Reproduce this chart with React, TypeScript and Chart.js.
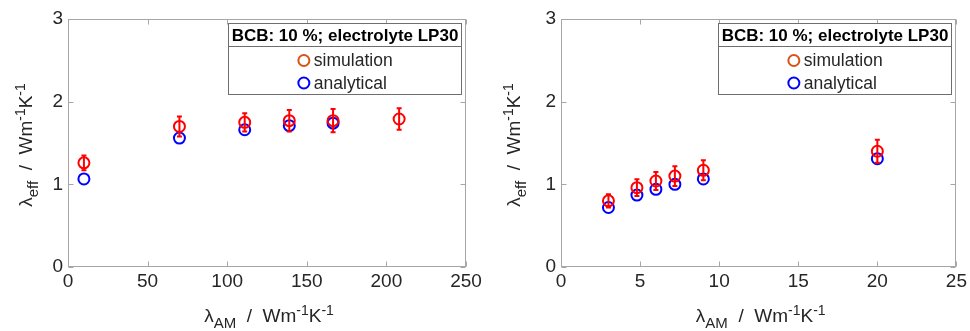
import React, { useEffect, useRef } from "react";
import { Chart, registerables } from "chart.js";

Chart.register(...registerables);

const FONT = '"Liberation Sans", Arial, sans-serif';
const RED = "#ff0000";
const BLUE = "#0000ff";
const LEGEND_SIM = "#d95319";
const FRAME = "#a6a6a6";
const TEXT = "#262626";

// Left panel: thermal conductivity of active material up to 250
const leftAmX = [10, 70, 111, 139, 166.5, 208];
const leftSimulation = [1.26, 1.7, 1.75, 1.77, 1.77, 1.79];
const leftSimulationErr = [0.09, 0.12, 0.11, 0.13, 0.14, 0.13];
const leftAnalyticalX = [10, 70, 111, 139, 166.5];
const leftAnalytical = [1.065, 1.56, 1.66, 1.71, 1.74];

// Right panel: thermal conductivity of active material up to 25
const rightAmX = [3, 4.8, 6, 7.2, 9, 20];
const rightSimulation = [0.8, 0.96, 1.04, 1.1, 1.17, 1.4];
const rightSimulationErr = [0.08, 0.1, 0.11, 0.12, 0.12, 0.14];
const rightAnalyticalX = [3, 4.8, 6, 7.2, 9, 20];
const rightAnalytical = [0.72, 0.87, 0.94, 1.0, 1.065, 1.31];

const legendTitle = "BCB: 10 %; electrolyte LP30";
const seriesNames = ["simulation", "analytical"];

type Seg = { t: string; k?: "sub" | "sup" };
const xTitle: Seg[] = [
  { t: "λ" },
  { t: "AM", k: "sub" },
  { t: "  /  Wm" },
  { t: "-1", k: "sup" },
  { t: "K" },
  { t: "-1", k: "sup" },
];
const yTitle: Seg[] = [
  { t: "λ" },
  { t: "eff", k: "sub" },
  { t: "  /  Wm" },
  { t: "-1", k: "sup" },
  { t: "K" },
  { t: "-1", k: "sup" },
];

const TITLE_SIZE = 19;

function segFont(k?: string) {
  if (k === "sub") return `15px ${FONT}`;
  if (k === "sup") return `14px ${FONT}`;
  return `${TITLE_SIZE}px ${FONT}`;
}
function segDy(k?: string) {
  if (k === "sub") return 6;
  if (k === "sup") return -7;
  return 0;
}

// Draws mixed sub/superscript text centred on the origin, baseline at y=0
function drawRich(ctx: CanvasRenderingContext2D, segs: Seg[]) {
  let total = 0;
  const widths = segs.map((s) => {
    ctx.font = segFont(s.k);
    const w = ctx.measureText(s.t).width;
    total += w;
    return w;
  });
  let x = -total / 2;
  ctx.textBaseline = "alphabetic";
  ctx.textAlign = "left";
  segs.forEach((s, i) => {
    ctx.font = segFont(s.k);
    ctx.fillText(s.t, x, segDy(s.k));
    x += widths[i];
  });
}

type PanelCfg = {
  xMax: number;
  xStep: number;
  simX: number[];
  sim: number[];
  simErr: number[];
  anaX: number[];
  ana: number[];
  yAxisWidth: number;
  padRight: number;
  yTitleX: number;
};

function Panel({ cfg }: { cfg: PanelCfg }) {
  const ref = useRef<HTMLCanvasElement>(null);

  useEffect(() => {
    const canvas = ref.current;
    if (!canvas) return;

    const framePlugin = {
      id: "frame",
      beforeDatasetsDraw(chart: any) {
        const { ctx, chartArea: a, scales } = chart;
        ctx.save();
        ctx.strokeStyle = FRAME;
        ctx.lineWidth = 1;
        const l = Math.round(a.left) + 0.5;
        const r = Math.round(a.right) - 0.5;
        const t = Math.round(a.top) + 0.5;
        const b = Math.round(a.bottom) - 0.5;
        ctx.strokeRect(l, t, r - l, b - t);
        const tl = 5;
        ctx.beginPath();
        scales.x.ticks.forEach((tk: any) => {
          const px = Math.round(scales.x.getPixelForValue(tk.value)) + 0.5;
          ctx.moveTo(px, b);
          ctx.lineTo(px, b - tl);
          ctx.moveTo(px, t);
          ctx.lineTo(px, t + tl);
        });
        scales.y.ticks.forEach((tk: any) => {
          const py = Math.round(scales.y.getPixelForValue(tk.value)) + 0.5;
          ctx.moveTo(l, py);
          ctx.lineTo(l + tl, py);
          ctx.moveTo(r, py);
          ctx.lineTo(r - tl, py);
        });
        ctx.stroke();
        ctx.restore();
      },
    };

    const errorBarPlugin = {
      id: "errorBars",
      afterDatasetsDraw(chart: any) {
        const { ctx, scales } = chart;
        ctx.save();
        ctx.strokeStyle = RED;
        ctx.lineWidth = 2;
        cfg.simX.forEach((xv, i) => {
          const px = scales.x.getPixelForValue(xv);
          const top = scales.y.getPixelForValue(cfg.sim[i] + cfg.simErr[i]);
          const bot = scales.y.getPixelForValue(cfg.sim[i] - cfg.simErr[i]);
          ctx.beginPath();
          ctx.moveTo(px, top);
          ctx.lineTo(px, bot);
          ctx.moveTo(px - 2.5, top);
          ctx.lineTo(px + 2.5, top);
          ctx.moveTo(px - 2.5, bot);
          ctx.lineTo(px + 2.5, bot);
          ctx.stroke();
        });
        ctx.restore();
      },
    };

    const titlesPlugin = {
      id: "axisTitles",
      afterDraw(chart: any) {
        const { ctx, chartArea: a } = chart;
        ctx.save();
        ctx.fillStyle = TEXT;
        ctx.translate((a.left + a.right) / 2 + 2, 321.5);
        drawRich(ctx, xTitle);
        ctx.restore();

        ctx.save();
        ctx.fillStyle = TEXT;
        ctx.translate(cfg.yTitleX, (a.top + a.bottom) / 2 + 2);
        ctx.rotate(-Math.PI / 2);
        drawRich(ctx, yTitle);
        ctx.restore();
      },
    };

    const legendPlugin = {
      id: "legendBox",
      afterDraw(chart: any) {
        const { ctx, chartArea: a } = chart;
        const w = 233;
        const h = 71;
        const left = Math.round(a.right - 5 - w) + 0.5;
        const top = Math.round(a.top + 4) + 0.5;
        ctx.save();
        ctx.fillStyle = "#ffffff";
        ctx.fillRect(left, top, w, h);
        ctx.strokeStyle = "#6e6e6e";
        ctx.lineWidth = 1;
        ctx.strokeRect(left, top, w, h);
        ctx.beginPath();
        ctx.moveTo(left, top + 23);
        ctx.lineTo(left + w, top + 23);
        ctx.stroke();

        const cx = left + w / 2;
        ctx.fillStyle = "#000000";
        ctx.font = `bold 17px ${FONT}`;
        ctx.textAlign = "center";
        ctx.textBaseline = "middle";
        ctx.fillText(legendTitle, cx, top + 12.5);

        ctx.font = `17.5px ${FONT}`;
        const maxW = Math.max(...seriesNames.map((n) => ctx.measureText(n).width));
        const markerX = cx - (6.5 + 10 + maxW) / 2 + 6.5;
        const colors = [LEGEND_SIM, BLUE];
        const rows = [top + 37, top + 59.5];
        seriesNames.forEach((name, i) => {
          ctx.beginPath();
          ctx.strokeStyle = colors[i];
          ctx.lineWidth = 2;
          ctx.arc(markerX, rows[i], 5.5, 0, Math.PI * 2);
          ctx.stroke();
          ctx.fillStyle = TEXT;
          ctx.textAlign = "left";
          ctx.fillText(name, markerX + 10, rows[i] + 1);
        });
        ctx.restore();
      },
    };

    const chart = new Chart(canvas, {
      type: "scatter",
      data: {
        datasets: [
          {
            label: seriesNames[0],
            data: cfg.simX.map((x, i) => ({ x, y: cfg.sim[i] })),
            borderColor: RED,
            backgroundColor: "rgba(0,0,0,0)",
            borderWidth: 2,
            pointRadius: 5.5,
            pointHoverRadius: 5.5,
          },
          {
            label: seriesNames[1],
            data: cfg.anaX.map((x, i) => ({ x, y: cfg.ana[i] })),
            borderColor: BLUE,
            backgroundColor: "rgba(0,0,0,0)",
            borderWidth: 2,
            pointRadius: 5.5,
            pointHoverRadius: 5.5,
          },
        ],
      },
      options: {
        responsive: false,
        animation: false,
        devicePixelRatio: 1,
        events: [],
        layout: { padding: { left: 0, right: cfg.padRight, top: 19, bottom: 0 } },
        plugins: {
          legend: { display: false },
          tooltip: { enabled: false },
          title: { display: false },
        },
        scales: {
          x: {
            type: "linear",
            min: 0,
            max: cfg.xMax,
            grid: { display: false, drawTicks: false },
            border: { display: false },
            ticks: {
              stepSize: cfg.xStep,
              maxRotation: 0,
              autoSkip: false,
              padding: 3,
              color: TEXT,
              font: { family: FONT, size: 19 },
            },
            afterFit: (s: any) => {
              s.height = 64;
            },
          },
          y: {
            type: "linear",
            min: 0,
            max: 3,
            grid: { display: false, drawTicks: false },
            border: { display: false },
            ticks: {
              stepSize: 1,
              padding: 5,
              color: TEXT,
              font: { family: FONT, size: 19 },
            },
            afterFit: (s: any) => {
              s.width = cfg.yAxisWidth;
            },
          },
        },
      },
      plugins: [framePlugin, errorBarPlugin, titlesPlugin, legendPlugin],
    } as any);

    return () => chart.destroy();
  }, [cfg]);

  return (
    <div style={{ width: 485, height: 331, position: "relative" }}>
      <canvas ref={ref} width={485} height={331} />
    </div>
  );
}

const leftCfg: PanelCfg = {
  xMax: 250,
  xStep: 50,
  simX: leftAmX,
  sim: leftSimulation,
  simErr: leftSimulationErr,
  anaX: leftAnalyticalX,
  ana: leftAnalytical,
  yAxisWidth: 68,
  padRight: 19,
  yTitleX: 31.5,
};

const rightCfg: PanelCfg = {
  xMax: 25,
  xStep: 5,
  simX: rightAmX,
  sim: rightSimulation,
  simErr: rightSimulationErr,
  anaX: rightAnalyticalX,
  ana: rightAnalytical,
  yAxisWidth: 76,
  padRight: 12,
  yTitleX: 35,
};

export default function App() {
  return (
    <div
      style={{
        position: "absolute",
        left: 0,
        top: 0,
        width: 970,
        height: 331,
        display: "flex",
        background: "#ffffff",
      }}
    >
      <Panel cfg={leftCfg} />
      <Panel cfg={rightCfg} />
    </div>
  );
}
